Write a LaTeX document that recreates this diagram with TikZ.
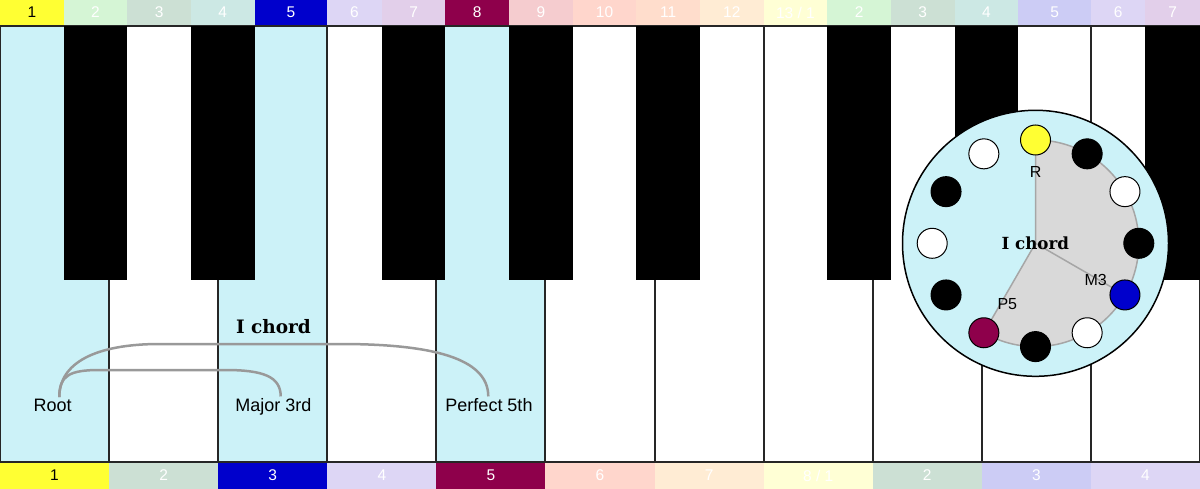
\documentclass[tikz,border=0pt]{standalone}
\usepackage{fontspec}
\setmainfont{Liberation Sans}
\newfontfamily\chordfont{DejaVu Serif}

\definecolor{deg1}{HTML}{FFFF33}
\definecolor{deg5}{HTML}{0000CC}
\definecolor{deg8}{HTML}{8E004B}
\definecolor{pale1}{HTML}{FFFFD5}
\definecolor{pale2}{HTML}{D5F5D5}
\definecolor{pale3}{HTML}{CCE0D4}
\definecolor{pale4}{HTML}{CCE8E4}
\definecolor{pale5}{HTML}{CCCCF5}
\definecolor{pale6}{HTML}{DDD6F5}
\definecolor{pale7}{HTML}{E2CFEA}
\definecolor{pale9}{HTML}{F5CCCF}
\definecolor{pale10}{HTML}{FFD6CC}
\definecolor{pale11}{HTML}{FFDDCC}
\definecolor{pale12}{HTML}{FFECD4}
\definecolor{chordkey}{HTML}{CCF2F8}
\definecolor{arcgrey}{HTML}{999999}
\definecolor{sectorfill}{HTML}{D9D9D9}
\definecolor{sectorline}{HTML}{A6A6A6}

\tikzset{
	cell/.style={inner sep=0,outer sep=0,minimum height=26pt,minimum width=63.64pt,text=white,font=\fontsize{15.5}{15.5}\selectfont},
	whitekey/.style={draw=black!85,line width=2pt,fill=white,inner sep=0,minimum width=109.09pt,minimum height=436pt},
	blackkey/.style={fill=black,inner sep=0,minimum width=63.64pt,minimum height=254pt},
	notelabel/.style={anchor=base,inner sep=2pt,font=\fontsize{18}{18}\selectfont},
	chordarc/.style={draw=arcgrey,line width=2.5pt},
	chordtitle/.style={anchor=base,inner sep=0,font=\chordfont\bfseries\fontsize{18.5}{18.5}\selectfont},
	ringdot/.style={draw,circle,line width=1pt,inner sep=0,minimum size=30pt},
	ringlabel/.style={anchor=base,inner sep=0,font=\fontsize{16}{16}\selectfont}
}

\begin{document}
\begin{tikzpicture}[x=1pt,y=1pt]
	\useasboundingbox (0,0) rectangle (1200,488);
	% top bar
	\node[cell,fill=deg1,text=black] (top1) at (31.82,475.5) {1};
	\node[cell,fill=pale2] (top2) at (95.45,475.5) {2};
	\node[cell,fill=pale3] (top3) at (159.09,475.5) {3};
	\node[cell,fill=pale4] (top4) at (222.73,475.5) {4};
	\node[cell,fill=deg5,minimum width=72.73pt] (top5) at (290.91,475.5) {5};
	\node[cell,fill=pale6,minimum width=54.55pt] (top6) at (354.55,475.5) {6};
	\node[cell,fill=pale7] (top7) at (413.64,475.5) {7};
	\node[cell,fill=deg8] (top8) at (477.27,475.5) {8};
	\node[cell,fill=pale9] (top9) at (540.91,475.5) {9};
	\node[cell,fill=pale10] (top10) at (604.55,475.5) {10};
	\node[cell,fill=pale11] (top11) at (668.18,475.5) {11};
	\node[cell,fill=pale12] (top12) at (731.82,475.5) {12};
	\node[cell,fill=pale1] (top13) at (795.45,475.5) {13 / 1};
	\node[cell,fill=pale2] (top14) at (859.09,475.5) {2};
	\node[cell,fill=pale3] (top15) at (922.73,475.5) {3};
	\node[cell,fill=pale4] (top16) at (986.36,475.5) {4};
	\node[cell,fill=pale5,minimum width=72.73pt] (top17) at (1054.55,475.5) {5};
	\node[cell,fill=pale6,minimum width=54.55pt] (top18) at (1118.18,475.5) {6};
	\node[cell,fill=pale7,minimum width=54.55pt] (top19) at (1172.73,475.5) {7};
	% bottom bar
	\node[cell,fill=deg1,text=black,minimum width=109.09pt] (bot1) at (54.55,12.5) {1};
	\node[cell,fill=pale3,minimum width=109.09pt] (bot2) at (163.64,12.5) {2};
	\node[cell,fill=deg5,minimum width=109.09pt] (bot3) at (272.73,12.5) {3};
	\node[cell,fill=pale6,minimum width=109.09pt] (bot4) at (381.82,12.5) {4};
	\node[cell,fill=deg8,minimum width=109.09pt] (bot5) at (490.91,12.5) {5};
	\node[cell,fill=pale10,minimum width=109.09pt] (bot6) at (600,12.5) {6};
	\node[cell,fill=pale12,minimum width=109.09pt] (bot7) at (709.09,12.5) {7};
	\node[cell,fill=pale1,minimum width=109.09pt] (bot8) at (818.18,12.5) {8 / 1};
	\node[cell,fill=pale3,minimum width=109.09pt] (bot9) at (927.27,12.5) {2};
	\node[cell,fill=pale5,minimum width=109.09pt] (bot10) at (1036.36,12.5) {3};
	\node[cell,fill=pale6,minimum width=109.09pt] (bot11) at (1145.45,12.5) {4};
	% white keys
	\node[whitekey,fill=chordkey] (key1) at (54.55,244) {};
	\node[whitekey] (key2) at (163.64,244) {};
	\node[whitekey,fill=chordkey] (key3) at (272.73,244) {};
	\node[whitekey] (key4) at (381.82,244) {};
	\node[whitekey,fill=chordkey] (key5) at (490.91,244) {};
	\node[whitekey] (key6) at (600,244) {};
	\node[whitekey] (key7) at (709.09,244) {};
	\node[whitekey] (key8) at (818.18,244) {};
	\node[whitekey] (key9) at (927.27,244) {};
	\node[whitekey] (key10) at (1036.36,244) {};
	\node[whitekey] (key11) at (1145.45,244) {};
	% black keys
	\node[blackkey] (bkey1) at (95.45,335) {};
	\node[blackkey] (bkey2) at (222.73,335) {};
	\node[blackkey] (bkey3) at (413.64,335) {};
	\node[blackkey] (bkey4) at (540.91,335) {};
	\node[blackkey] (bkey5) at (668.18,335) {};
	\node[blackkey] (bkey6) at (859.09,335) {};
	\node[blackkey] (bkey7) at (986.36,335) {};
	\node[blackkey] (bkey8) at (1177.27,335) {};
	% chord on the keyboard
	\node[chordtitle] (title) at (273.5,154) {I chord};
	\node[notelabel] (root) at (52.7,76.3) {Root};
	\node[notelabel] (third) at (273.5,76.3) {Major 3rd};
	\node[notelabel] (fifth) at (489,76.3) {Perfect 5th};
	\draw[chordarc] ([xshift=6.6pt]root.north) .. controls +(0,22) and +(-30,0) .. (100,118) -- (225,118) .. controls +(38,0) and +(0,20) .. ([xshift=7.2pt]third.north);
	\draw[chordarc] ([xshift=6.6pt]root.north) .. controls +(0,34) and +(-65,0) .. (160,144) -- (340,144) .. controls +(90,0) and +(0,39) .. ([xshift=-0.7pt]fifth.north);
	% chord clock
	\coordinate (ctr) at (1035.5,244.7);
	\node[draw,circle,fill=chordkey,line width=1.5pt,inner sep=0,minimum size=266pt] (clock) at (ctr) {};
	\coordinate (p1) at (1035.5,348);
	\coordinate (p5) at (1124.96,193.05);
	\coordinate (p8) at (983.85,155.24);
	\draw[draw=sectorline,fill=sectorfill,line width=1.5pt] (ctr) -- (p1) arc[start angle=90,end angle=-120,radius=103.3pt] -- cycle;
	\draw[draw=sectorline,line width=1.5pt] (ctr) -- (p5);
	\node[ringdot,fill=deg1] (s1) at (p1) {};
	\node[ringdot,fill=black] (s2) at (1087.15,334.16) {};
	\node[ringdot,fill=white] (s3) at (1124.96,296.35) {};
	\node[ringdot,fill=black] (s4) at (1138.8,244.7) {};
	\node[ringdot,fill=deg5] (s5) at (p5) {};
	\node[ringdot,fill=white] (s6) at (1087.15,155.24) {};
	\node[ringdot,fill=black] (s7) at (1035.5,141.4) {};
	\node[ringdot,fill=deg8] (s8) at (p8) {};
	\node[ringdot,fill=black] (s9) at (946.04,193.05) {};
	\node[ringdot,fill=white] (s10) at (932.2,244.7) {};
	\node[ringdot,fill=black] (s11) at (946.04,296.35) {};
	\node[ringdot,fill=white] (s12) at (983.85,334.16) {};
	\node[ringlabel] (rlabel) at (1035.7,310.3) {R};
	\node[ringlabel] (mlabel) at (1095.7,202) {M3};
	\node[ringlabel] (plabel) at (1007.3,178.7) {P5};
	\node[chordtitle,font=\chordfont\bfseries\fontsize{16.7}{16.7}\selectfont] (ctitle) at (1035.3,238.7) {I chord};
\end{tikzpicture}
\end{document}
